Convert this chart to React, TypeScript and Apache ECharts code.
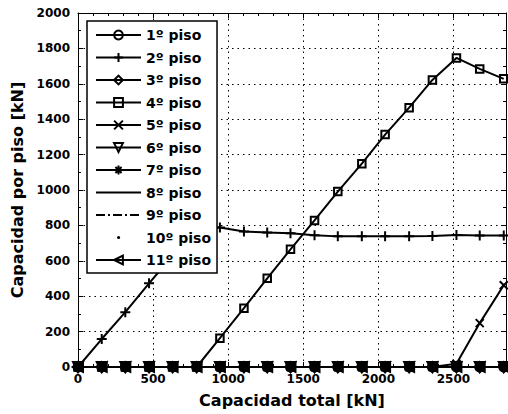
import React, { useEffect, useRef } from "react";
import * as echarts from "echarts";

const capacidadTotal = [0, 158, 315, 473, 630, 790, 945, 1105, 1260, 1415, 1575, 1730, 1890, 2045, 2205, 2360, 2520, 2675, 2835];

const piso1 = [0, 0, 0, 0, 0, 0, 0, 0, 0, 0, 0, 0, 0, 0, 0, 0, 0, 0, 0];
const piso2 = [0, 158, 310, 473, 630, 790, 788, 766, 760, 755, 744, 738, 738, 738, 738, 740, 746, 743, 743];
const piso3 = [0, 0, 0, 0, 0, 0, 0, 0, 0, 0, 0, 0, 0, 0, 0, 0, 0, 0, 0];
const piso4 = [0, 0, 0, 0, 0, 0, 163, 332, 501, 665, 828, 991, 1149, 1313, 1465, 1622, 1746, 1684, 1628];
const piso5 = [0, 0, 0, 0, 0, 0, 0, 0, 0, 0, 0, 0, 0, 0, 0, 0, 18, 248, 462];
const piso6 = [0, 0, 0, 0, 0, 0, 0, 0, 0, 0, 0, 0, 0, 0, 0, 0, 0, 0, 0];
const piso7 = [0, 0, 0, 0, 0, 0, 0, 0, 0, 0, 0, 0, 0, 0, 0, 0, 0, 0, 0];
const piso8 = [0, 0, 0, 0, 0, 0, 0, 0, 0, 0, 0, 0, 0, 0, 0, 0, 0, 0, 0];
const piso9 = [0, 0, 0, 0, 0, 0, 0, 0, 0, 0, 0, 0, 0, 0, 0, 0, 0, 0, 0];
const piso10 = [0, 0, 0, 0, 0, 0, 0, 0, 0, 0, 0, 0, 0, 0, 0, 0, 0, 0, 0];
const piso11 = [0, 0, 0, 0, 0, 0, 0, 0, 0, 0, 0, 0, 0, 0, 0, 0, 0, 0, 0];

const nombres = ["1º piso", "2º piso", "3º piso", "4º piso", "5º piso", "6º piso", "7º piso", "8º piso", "9º piso", "10º piso", "11º piso"];

const xLabel = "Capacidad total [kN]";
const yLabel = "Capacidad por piso [kN]";

const FONT = "DejaVu Sans";

const PLUS = "path://M5,0 L5,10 M0,5 L10,5";
const XMARK = "path://M0,0 L10,10 M10,0 L0,10";
const STAR = "path://M5,0 L5,10 M0,5 L10,5 M1.5,1.5 L8.5,8.5 M8.5,1.5 L1.5,8.5";
const DIAMOND = "path://M5,0 L10,5 L5,10 L0,5 Z";
const TRI_DOWN = "path://M0,0 L10,0 L5,9 Z";
const TRI_LEFT = "path://M0,5 L9,0 L9,10 Z";

// legend icons (box 45 x 11 defined by tiny corner marks)
const BOX = "M0,0 L0.01,0 L0.01,0.01 Z M45,11 L44.99,11 L44.99,10.99 Z ";
const ICON_SOLID = "path://" + BOX + "M0,4.5 L45,4.5 L45,6.5 L0,6.5 Z";
const ICON_DASHDOT =
  "path://" + BOX +
  "M0,4.6 L9,4.6 L9,6.4 L0,6.4 Z M12,4.6 L14,4.6 L14,6.4 L12,6.4 Z " +
  "M17,4.6 L26,4.6 L26,6.4 L17,6.4 Z M29,4.6 L31,4.6 L31,6.4 L29,6.4 Z " +
  "M34,4.6 L43,4.6 L43,6.4 L34,6.4 Z";
const ICON_DOT = "path://" + BOX + "M21,5.5 A1.6,1.6 0 1 0 24.2,5.5 A1.6,1.6 0 1 0 21,5.5 Z";

export default function App() {
  const ref = useRef<HTMLDivElement>(null);

  useEffect(() => {
    if (!ref.current) return;
    const chart = echarts.init(ref.current, undefined, { renderer: "svg" });

    const valores = [piso1, piso2, piso3, piso4, piso5, piso6, piso7, piso8, piso9, piso10, piso11];
    const simbolos: any[] = [
      { symbol: "circle", size: 9 },
      { symbol: PLUS, size: 10 },
      { symbol: DIAMOND, size: 10 },
      { symbol: "rect", size: 7.5 },
      { symbol: XMARK, size: 8 },
      { symbol: TRI_DOWN, size: 10 },
      { symbol: STAR, size: 10 },
      { symbol: "none", size: 0 },
      { symbol: "none", size: 0 },
      { symbol: "circle", size: 4, filled: true },
      { symbol: TRI_LEFT, size: 10 },
    ];

    const series = valores.map((vals, i) => {
      const s = simbolos[i];
      const isDashDot = i === 8;
      const noLine = i === 9;
      return {
        name: nombres[i],
        type: "line",
        data: vals.map((v, k) => [capacidadTotal[k], v]),
        symbol: s.symbol,
        symbolSize: s.size,
        showSymbol: s.symbol !== "none",
        clip: false,
        lineStyle: {
          color: "#000",
          width: noLine ? 0 : 2,
          type: isDashDot ? [9, 3, 2, 3] : "solid",
          opacity: noLine ? 0 : 1,
        },
        itemStyle: {
          color: s.filled ? "#000" : "none",
          borderColor: "#000",
          borderWidth: s.filled ? 0 : 2,
        },
        emphasis: { disabled: true },
      };
    });

    const legendData = nombres.map((n, i) => {
      if (i === 7) return { name: n, icon: ICON_SOLID, itemStyle: { color: "#000", borderWidth: 0 } };
      if (i === 8) return { name: n, icon: ICON_DASHDOT, itemStyle: { color: "#000", borderWidth: 0 } };
      if (i === 9) return { name: n, icon: ICON_DOT, itemStyle: { color: "#000", borderWidth: 0 } };
      return { name: n };
    });

    const tickLabel = {
      fontFamily: FONT,
      fontWeight: "bold",
      fontSize: 12,
      color: "#000",
      formatter: (v: number) => String(v),
    };

    chart.setOption({
      animation: false,
      backgroundColor: "#fff",
      grid: { left: 78, right: 2, top: 13, bottom: 47, containLabel: false },
      legend: {
        show: true,
        orient: "vertical",
        left: 87,
        top: 21,
        data: legendData,
        itemWidth: 45,
        itemHeight: 11,
        itemGap: 8.5,
        padding: [7, 6, 6, 8],
        backgroundColor: "#fff",
        borderColor: "#000",
        borderWidth: 1.5,
        borderRadius: 0,
        selectedMode: false,
        textStyle: { fontFamily: FONT, fontWeight: "bold", fontSize: 14, color: "#000" },
      },
      xAxis: [
        {
          type: "value",
          min: 0,
          max: 2850,
          interval: 500,
          name: xLabel,
          nameLocation: "middle",
          nameGap: 25,
          nameTextStyle: { fontFamily: FONT, fontWeight: "bold", fontSize: 16, color: "#000" },
          axisLine: { show: true, onZero: false, lineStyle: { color: "#000", width: 1 } },
          axisTick: { show: true, inside: true, length: 5, lineStyle: { color: "#000" } },
          minorTick: { show: true, splitNumber: 5, length: 3, lineStyle: { color: "#000" } },
          axisLabel: { ...tickLabel, margin: 6, showMaxLabel: false },
          splitLine: { show: true, lineStyle: { color: "#000", width: 1, type: [1.5, 4] } },
        },
        {
          type: "value",
          position: "top",
          min: 0,
          max: 2850,
          interval: 500,
          axisLine: { show: true, onZero: false, lineStyle: { color: "#000", width: 1 } },
          axisTick: { show: true, inside: true, length: 5, lineStyle: { color: "#000" } },
          minorTick: { show: true, splitNumber: 5, length: 3, lineStyle: { color: "#000" } },
          axisLabel: { show: false },
          splitLine: { show: false },
        },
      ],
      yAxis: [
        {
          type: "value",
          min: 0,
          max: 2000,
          interval: 200,
          name: yLabel,
          nameLocation: "middle",
          nameGap: 45,
          nameTextStyle: { fontFamily: FONT, fontWeight: "bold", fontSize: 16, color: "#000" },
          axisLine: { show: true, onZero: false, lineStyle: { color: "#000", width: 1 } },
          axisTick: { show: true, inside: true, length: 5, lineStyle: { color: "#000" } },
          minorTick: { show: true, splitNumber: 2, length: 3, lineStyle: { color: "#000" } },
          axisLabel: { ...tickLabel, margin: 8 },
          splitLine: { show: true, lineStyle: { color: "#000", width: 1, type: [1.5, 4] } },
        },
        {
          type: "value",
          position: "right",
          min: 0,
          max: 2000,
          interval: 200,
          axisLine: { show: true, onZero: false, lineStyle: { color: "#000", width: 1 } },
          axisTick: { show: true, inside: true, length: 5, lineStyle: { color: "#000" } },
          minorTick: { show: true, splitNumber: 2, length: 3, lineStyle: { color: "#000" } },
          axisLabel: { show: false },
          splitLine: { show: false },
        },
      ],
      series,
    });

    return () => chart.dispose();
  }, []);

  return <div ref={ref} style={{ width: 508, height: 414, position: "absolute", left: 0, top: 0 }} />;
}
